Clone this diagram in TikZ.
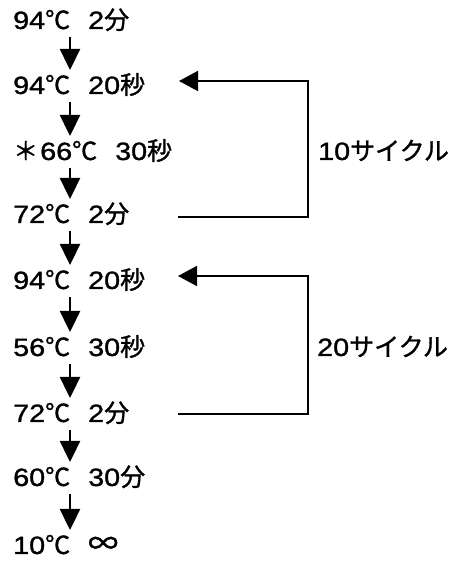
\documentclass[tikz,border=0pt]{standalone}
\usepackage{fontspec}
\setmainfont{Liberation Sans}[FakeStretch=1.15, FakeBold=1.2]
\newfontfamily\jp{Noto Sans CJK JP}[FakeBold=1.2]
\usetikzlibrary{arrows.meta}
\newcommand\degC{{\jp ℃}}
\newcommand\fen{{\jp 分}}
\newcommand\byo{{\jp 秒}}
\newcommand\colgap{\hspace{18pt}}

\begin{document}
\begin{tikzpicture}[x=1pt,y=1pt,
  row/.style={anchor=base west, inner sep=0pt, font=\fontsize{25}{25}\selectfont},
  dn/.style={line width=2.4pt, -{Triangle[length=21pt,width=20pt]}},
  back/.style={line width=1.6pt, -{Triangle[length=19pt,width=20pt]}},
]
\fill[white] (0,0) rectangle (457,561);
\useasboundingbox (0,0) rectangle (457,561);

% protocol steps
\node[row] (r1) at (13,532) {94\degC\colgap 2\fen};
\node[row] (r2) at (13,467) {94\degC\colgap 20\byo};
\node[row] (r3) at (13,401) {{\jp ＊}\hspace{2pt}66\degC\colgap 30\byo};
\node[row] (r4) at (13,338) {72\degC\colgap 2\fen};
\node[row] (r5) at (13,272) {94\degC\colgap 20\byo};
\node[row] (r6) at (13,205) {56\degC\colgap 30\byo};
\node[row] (r7) at (13,139) {72\degC\colgap 2\fen};
\node[row] (r8) at (13,75)  {60\degC\colgap 30\fen};
\node[row] (r9) at (13,7)   {10\degC\colgap{\jp\fontsize{30}{30}\selectfont ∞}};

% step-to-step arrows
\coordinate (ax) at (70,0);
\foreach \a/\b in {r1/r2,r2/r3,r3/r4,r4/r5,r5/r6,r6/r7,r7/r8,r8/r9}
  \draw[dn] ([yshift=-8pt]\a.base -| ax) -- ([yshift=24pt]\b.base -| ax);

% cycle loops
\coordinate (l1out) at (178,344);
\coordinate (l1in)  at (179,480);
\coordinate (l2out) at (178,147);
\coordinate (l2in)  at (178,285);
\draw[back] (l1out) -- (308,344) |- (l1in);
\draw[back] (l2out) -- (308,147) |- (l2in);

\node[row] (lab1) at (318,401) {10{\jp サイクル}};
\node[row] (lab2) at (317,205) {20{\jp サイクル}};
\end{tikzpicture}
\end{document}
